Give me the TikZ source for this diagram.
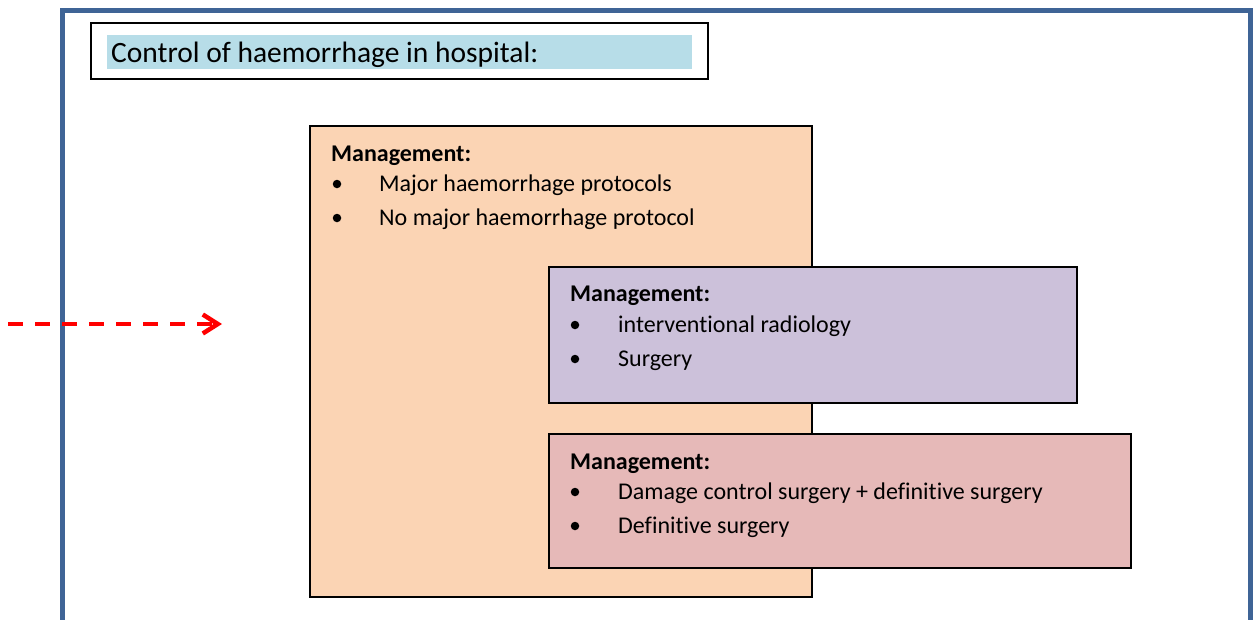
\documentclass[tikz,border=0pt]{standalone}
\usepackage{fontspec}
\setmainfont{Carlito}[RawFeature={-liga}]
\usetikzlibrary{arrows.meta}
\definecolor{frameblue}{HTML}{3F6496}
\definecolor{titlefill}{HTML}{B7DDE8}
\definecolor{orangefill}{HTML}{FBD4B4}
\definecolor{purplefill}{HTML}{CCC1DA}
\definecolor{pinkfill}{HTML}{E6B9B8}
\definecolor{arrowred}{HTML}{FF0000}
\tikzset{
  box/.style={draw=black, line width=1.5pt, anchor=north west, inner sep=0pt, outer sep=0pt},
  head/.style={anchor=base west, inner sep=0pt, font=\fontsize{24}{28}\selectfont\bfseries},
  item/.style={anchor=base west, inner sep=0pt, font=\fontsize{24}{28}\selectfont},
  dot/.style={circle, fill=black, inner sep=0pt, minimum size=8.5pt},
}
\begin{document}
\begin{tikzpicture}[x=1pt,y=-1pt]
\useasboundingbox (0,0) rectangle (1256,619);
% outer frame
\draw[frameblue, line width=5pt, line join=miter] (62,625) -- (62,10) -- (1250,10) -- (1250,625);
% title
\node[box, line width=2pt, minimum width=617pt, minimum height=56pt] (titlebox) at (91,23) {};
\node[anchor=north west, fill=titlefill, inner sep=0pt, minimum width=585pt, minimum height=34pt] (titlefillbox) at (107,35) {};
\node[anchor=base west, inner sep=0pt, font=\fontsize{29.5}{34}\selectfont] (title) at (111,62) {Control of haemorrhage in hospital:};
% orange box
\node[box, fill=orangefill, minimum width=502pt, minimum height=471pt] (orange) at (310,126) {};
\node[head] (oh) at (331,161) {Management:};
\node[dot] (ob1) at (337,184) {};
\node[item] (ot1) at (379,191) {Major haemorrhage protocols};
\node[dot] (ob2) at (337,218) {};
\node[item] (ot2) at (379,225) {No major haemorrhage protocol};
% purple box
\node[box, fill=purplefill, minimum width=528pt, minimum height=136pt] (purple) at (549,267) {};
\node[head] (ph) at (570,301) {Management:};
\node[dot] (pb1) at (575,325) {};
\node[item] (pt1) at (618,332) {interventional radiology};
\node[dot] (pb2) at (575,359) {};
\node[item] (pt2) at (618,366) {Surgery};
% pink box
\node[box, fill=pinkfill, minimum width=582pt, minimum height=134pt] (pink) at (549,434) {};
\node[head] (kh) at (570,469) {Management:};
\node[dot] (kb1) at (575,492) {};
\node[item] (kt1) at (618,499) {Damage control surgery + definitive surgery};
\node[dot] (kb2) at (575,526) {};
\node[item] (kt2) at (618,533) {Definitive surgery};
% dashed arrow
\coordinate (arrowstart) at (8,324);
\coordinate (arrowend) at (222,324);
\draw[arrowred, line width=4pt, dash pattern=on 15pt off 12pt, -{Straight Barb[length=15pt, width=19pt, line width=4.5pt]}] (arrowstart) -- (arrowend);
\end{tikzpicture}
\end{document}
